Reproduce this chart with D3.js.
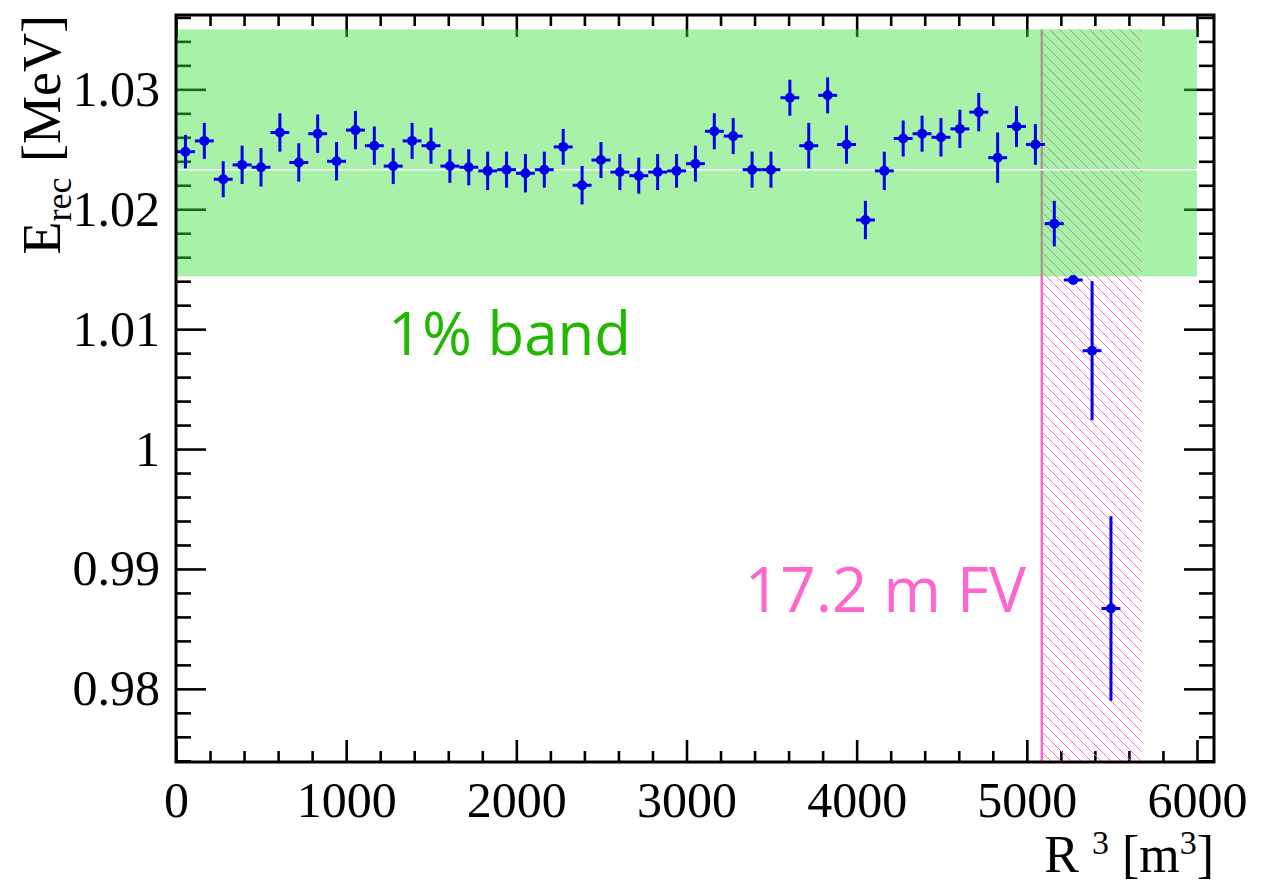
<!DOCTYPE html>
<html>
<head>
<meta charset="utf-8">
<script src="https://cdn.jsdelivr.net/npm/d3@7"></script>
<style>
  body { margin: 0; background: #fff; }
  svg { display: block; }
</style>
</head>
<body>
<div class="canvas"></div>
<script>
// ---- data ----
// bin centres in R^3 [m^3]
var binCentres = [55.5, 166.5, 277.5, 388.5, 499.5, 610.5, 721.5, 832.5, 943.5, 1054.5,
                  1165.5, 1276.5, 1387.5, 1498.5, 1609.5, 1720.5, 1831.5, 1942.5, 2053.5, 2164.5,
                  2275.5, 2386.5, 2497.5, 2608.5, 2719.5, 2830.5, 2941.5, 3052.5, 3163.5, 3274.5,
                  3385.5, 3496.5, 3607.5, 3718.5, 3829.5, 3940.5, 4051.5, 4162.5, 4273.5, 4384.5,
                  4495.5, 4606.5, 4717.5, 4828.5, 4939.5, 5050.5, 5161.5, 5272.5, 5383.5, 5494.5];
var eRec = [1.0248, 1.0257, 1.0225, 1.0237, 1.0235, 1.0264, 1.0239, 1.0263, 1.0240, 1.0266,
            1.0253, 1.0236, 1.0257, 1.0253, 1.0236, 1.0235, 1.0232, 1.0233, 1.0230, 1.0233,
            1.0252, 1.0220, 1.0241, 1.0231, 1.0228, 1.0231, 1.0232, 1.0238, 1.0265, 1.0261,
            1.0233, 1.0233, 1.0293, 1.0253, 1.0295, 1.0254, 1.0191, 1.0232, 1.0259, 1.0263,
            1.0260, 1.0267, 1.0281, 1.0243, 1.0269, 1.0254, 1.0188, 1.0141, 1.0082, 0.9867];
var eRecErr = [0.0014, 0.0015, 0.0015, 0.0016, 0.0016, 0.0016, 0.0016, 0.0016, 0.0016, 0.0016,
               0.0016, 0.0015, 0.0015, 0.0015, 0.0014, 0.0015, 0.0016, 0.0015, 0.0016, 0.0015,
               0.0015, 0.0016, 0.0015, 0.0015, 0.0015, 0.0015, 0.0014, 0.0015, 0.0015, 0.0015,
               0.0015, 0.0015, 0.0015, 0.0019, 0.0015, 0.0016, 0.0016, 0.0016, 0.0015, 0.0015,
               0.0016, 0.0016, 0.0016, 0.0021, 0.0017, 0.0017, 0.0019, 0.0001, 0.0058, 0.0077];
var binHalfWidth = 55.5;

var xTickValues = [0, 1000, 2000, 3000, 4000, 5000, 6000];
var yTickValues = [0.98, 0.99, 1.00, 1.01, 1.02, 1.03];
var yTickLabels = ["0.98", "0.99", "1", "1.01", "1.02", "1.03"];

var bandLow = 1.0144, bandHigh = 1.035, bandXmax = 6000;   // 1% band
var refLine = 1.0233;
var fvCut = 5088, hatchEnd = 5675;                          // 17.2 m FV

// ---- layout ----  (note: "top" is taken by window.top, so use m*)
var svgWidth = 1274, svgHeight = 882;
var mLeft = 176, mRight = 1214, mTop = 15, mBottom = 762;

const svg = d3.select(".canvas").append("svg")
              .attr("width", svgWidth)
              .attr("height", svgHeight);

var x = d3.scaleLinear().domain([0, 6100]).range([mLeft, mRight]);
var y = d3.scaleLinear().domain([0.9739, 1.0362]).range([mBottom, mTop]);

var defs = svg.append("defs");

// pink hatching "\\\"
var hatch = defs.append("pattern")
                .attr("id", "hatch")
                .attr("patternUnits", "userSpaceOnUse")
                .attr("width", 10).attr("height", 10);
hatch.append("path")
     .attr("d", "M0,0 L10,10 M-1,9 L1,11 M9,-1 L11,1")
     .attr("stroke", "#ff66cc")
     .attr("stroke-width", 1);

var minorX = d3.range(0, 6001, 200).filter(function(d) { return d % 1000 !== 0; });
var minorY = d3.range(974, 1037, 2).map(function(d) { return d / 1000; })
               .filter(function(d) { return Math.round(d * 1000) % 10 !== 0; });

var serif = "'Liberation Serif', 'Times New Roman', serif";

// ---- ticks (inside the frame, on all four sides) ----
function styleTicks(g) {
  g.select(".domain").remove();
  g.selectAll(".tick line").attr("stroke", "#000").attr("stroke-width", 2.6);
  g.selectAll("text").attr("font-family", serif)
                     .attr("font-size", 50).attr("fill", "#000");
}

svg.append("g").attr("transform", "translate(0," + mBottom + ")")
   .call(d3.axisBottom(x).tickValues(xTickValues).tickSizeInner(-22).tickSizeOuter(0)
           .tickPadding(19).tickFormat(d3.format("d")))
   .call(styleTicks);
svg.append("g").attr("transform", "translate(0," + mBottom + ")")
   .call(d3.axisBottom(x).tickValues(minorX).tickSizeInner(-11).tickSizeOuter(0).tickFormat(""))
   .call(styleTicks);
svg.append("g").attr("transform", "translate(0," + mTop + ")")
   .call(d3.axisTop(x).tickValues(xTickValues).tickSizeInner(-22).tickSizeOuter(0).tickFormat(""))
   .call(styleTicks);
svg.append("g").attr("transform", "translate(0," + mTop + ")")
   .call(d3.axisTop(x).tickValues(minorX).tickSizeInner(-11).tickSizeOuter(0).tickFormat(""))
   .call(styleTicks);

svg.append("g").attr("transform", "translate(" + mLeft + ",0)")
   .call(d3.axisLeft(y).tickValues(yTickValues).tickSizeInner(-30).tickSizeOuter(0)
           .tickPadding(16).tickFormat(function(d, i) { return yTickLabels[i]; }))
   .call(styleTicks);
svg.append("g").attr("transform", "translate(" + mLeft + ",0)")
   .call(d3.axisLeft(y).tickValues(minorY).tickSizeInner(-15).tickSizeOuter(0).tickFormat(""))
   .call(styleTicks);
svg.append("g").attr("transform", "translate(" + mRight + ",0)")
   .call(d3.axisRight(y).tickValues(yTickValues).tickSizeInner(-30).tickSizeOuter(0).tickFormat(""))
   .call(styleTicks);
svg.append("g").attr("transform", "translate(" + mRight + ",0)")
   .call(d3.axisRight(y).tickValues(minorY).tickSizeInner(-15).tickSizeOuter(0).tickFormat(""))
   .call(styleTicks);

// ---- fiducial volume cut: hatched box + line ----
svg.append("rect")
   .attr("x", x(fvCut)).attr("y", y(bandHigh))
   .attr("width", x(hatchEnd) - x(fvCut))
   .attr("height", mBottom - y(bandHigh))
   .attr("fill", "url(#hatch)");
svg.append("line")
   .attr("x1", x(fvCut)).attr("x2", x(fvCut))
   .attr("y1", y(bandHigh)).attr("y2", mBottom)
   .attr("stroke", "#ff66cc").attr("stroke-width", 2.5);

// ---- 1% band, half transparent so ticks/hatch show through ----
svg.append("rect")
   .attr("x", x(0)).attr("y", y(bandHigh))
   .attr("width", x(bandXmax) - x(0))
   .attr("height", y(bandLow) - y(bandHigh))
   .attr("fill", "#3ee03e")
   .attr("fill-opacity", 0.45);
svg.append("line")
   .attr("x1", x(0)).attr("x2", x(bandXmax))
   .attr("y1", y(refLine)).attr("y2", y(refLine))
   .attr("stroke", "#fff").attr("stroke-width", 1.5);

// ---- data points with error bars ----
var pts = binCentres.map(function(d, i) { return {x: d, y: eRec[i], e: eRecErr[i]}; });
var pg = svg.append("g").attr("stroke", "#0000ee").attr("stroke-width", 3);
pg.selectAll("line.ey").data(pts).enter().append("line")
  .attr("x1", function(d) { return x(d.x); }).attr("x2", function(d) { return x(d.x); })
  .attr("y1", function(d) { return y(d.y - d.e); }).attr("y2", function(d) { return y(d.y + d.e); });
pg.selectAll("line.ex").data(pts).enter().append("line")
  .attr("x1", function(d) { return x(d.x - binHalfWidth); })
  .attr("x2", function(d) { return x(d.x + binHalfWidth); })
  .attr("y1", function(d) { return y(d.y); }).attr("y2", function(d) { return y(d.y); });
svg.selectAll("circle.pt").data(pts).enter().append("circle")
   .attr("cx", function(d) { return x(d.x); })
   .attr("cy", function(d) { return y(d.y); })
   .attr("r", 5)
   .attr("fill", "#0000ee");

// ---- frame ----
svg.append("rect")
   .attr("x", mLeft).attr("y", mTop)
   .attr("width", mRight - mLeft).attr("height", mBottom - mTop)
   .attr("fill", "none").attr("stroke", "#000").attr("stroke-width", 3);

// ---- texts ----
var ytitle = svg.append("text")
   .attr("transform", "rotate(-90)")
   .attr("x", -mTop).attr("y", 60)
   .attr("text-anchor", "end")
   .attr("font-family", serif).attr("font-size", 54).attr("fill", "#000");
ytitle.append("tspan").text("E");
ytitle.append("tspan").attr("font-size", 36).attr("dy", 11).text("rec");
ytitle.append("tspan").attr("dy", -11).attr("dx", 2).text(" [MeV]");

var xtitle = svg.append("text")
   .attr("x", mRight).attr("y", 872)
   .attr("text-anchor", "end")
   .attr("font-family", serif).attr("font-size", 52).attr("fill", "#000");
xtitle.append("tspan").text("R ");
xtitle.append("tspan").attr("font-size", 34).attr("dy", -18).text("3");
xtitle.append("tspan").attr("dy", 18).text(" [m");
xtitle.append("tspan").attr("font-size", 34).attr("dy", -18).text("3");
xtitle.append("tspan").attr("dy", 18).text("]");

svg.append("text")
   .attr("x", 388).attr("y", 355)
   .attr("font-family", "'Open Sans', 'Noto Sans', sans-serif")
   .attr("font-size", 60).attr("fill", "#22b800")
   .text("1% band");

svg.append("text")
   .attr("x", 1026).attr("y", 612)
   .attr("text-anchor", "end")
   .attr("font-family", "'Open Sans', 'Noto Sans', sans-serif")
   .attr("font-size", 62).attr("fill", "#ff66cc")
   .text("17.2 m FV");
</script>
</body>
</html>
